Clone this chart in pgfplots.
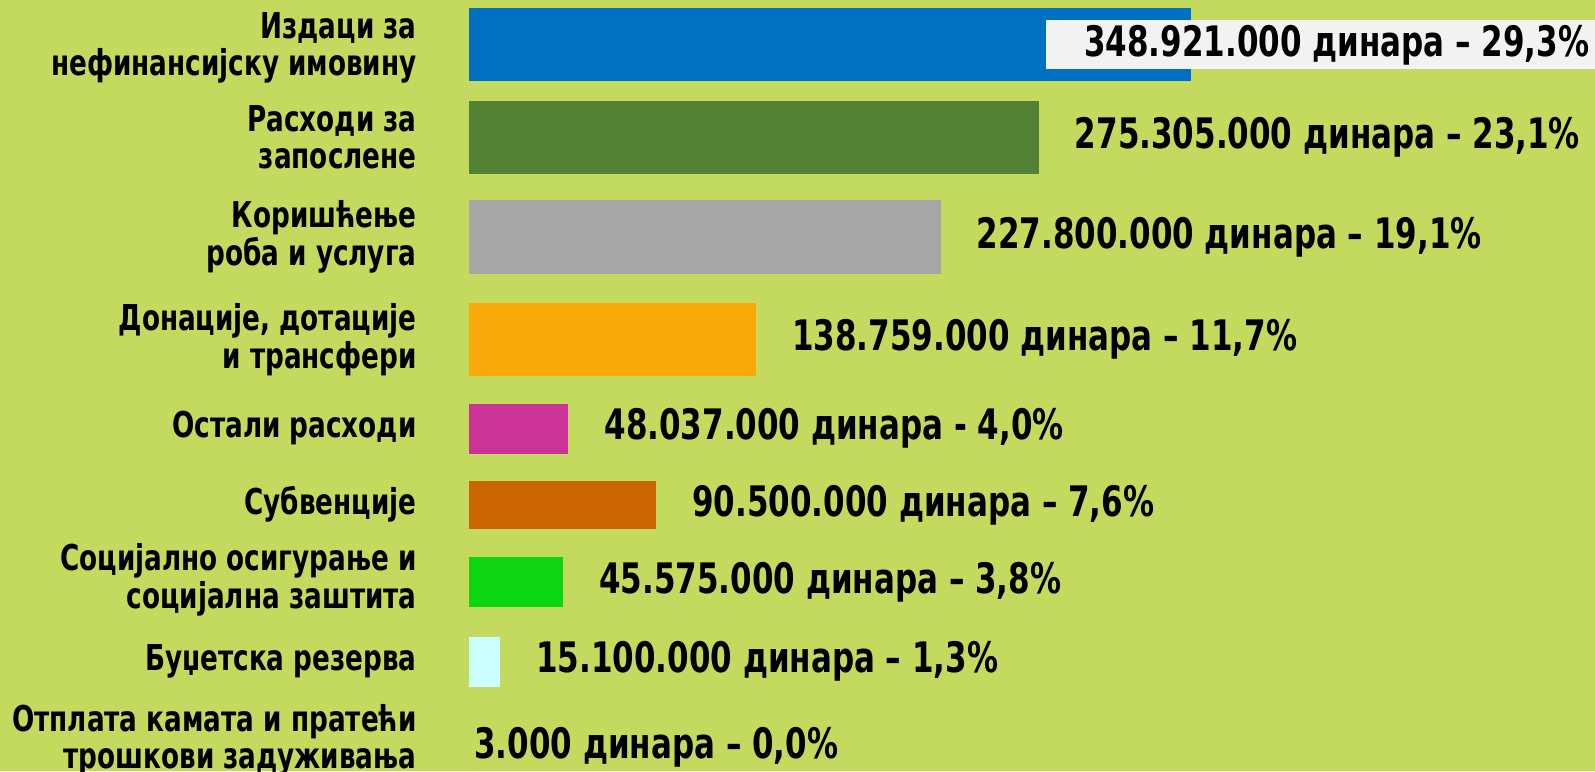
\documentclass[border=0pt]{standalone}
\usepackage{fontspec}
\setmainfont{DejaVu Sans Condensed}[FakeStretch=0.82]
\usepackage{pgfplots}
\pgfplotsset{compat=1.18}
\definecolor{bg}{RGB}{196,218,95}
\definecolor{cA}{RGB}{0,112,192}
\definecolor{cB}{RGB}{84,130,53}
\definecolor{cC}{RGB}{166,166,166}
\definecolor{cD}{RGB}{250,169,10}
\definecolor{cE}{RGB}{204,51,153}
\definecolor{cF}{RGB}{204,102,0}
\definecolor{cG}{RGB}{12,214,18}
\definecolor{cH}{RGB}{204,255,255}
\definecolor{boxg}{RGB}{242,242,242}
\begin{document}
\begin{tikzpicture}[x=1pt,y=1pt]
\fill[bg] (0,0) rectangle (797.5,385.5);
\begin{axis}[at={(234.5pt,0pt)}, anchor=south west,
  width=563pt, height=385.5pt, scale only axis,
  xmin=0, xmax=543.9, ymin=-771, ymax=0,
  enlargelimits=false, clip=false,
  axis line style={draw=none}, major tick length=0pt,
  xtick=\empty,
  ytick={-47.8,-137.3,-237,-339.7,-428.3,-504.5,-579.8,-661.2,-740.5},
  yticklabels={{Издаци за\\нефинансијску имовину},{Расходи за\\запослене},{Коришћење\\роба и услуга},{Донације, дотације\\и трансфери},{Остали расходи},{Субвенције},{Социјално осигурање и\\социјална заштита},{Буџетска резерва},{Отплата камата и пратећи\\трошкови задуживања}},
  yticklabel style={align=right, anchor=east, inner sep=0pt, xshift=-26pt, font=\bfseries\fontsize{17.8}{18.8}\selectfont},
  xbar, bar shift=0pt, point meta=explicit symbolic, nodes near coords,
  every node near coord/.append style={anchor=west, inner sep=0pt, xshift=17.8pt, text=black, font=\bfseries\fontsize{21}{22}\selectfont},
]
\addplot[fill=cA, draw=none, bar width=73.2, every node near coord/.append style={fill=boxg, inner xsep=19.2pt, inner ysep=0pt, minimum height=24.5pt, xshift=-90.8pt}] coordinates {(348.921,-44.8) [348.921.000 динара – 29,3\%]};
\addplot[fill=cB, draw=none, bar width=73.2] coordinates {(275.305,-137.3) [275.305.000 динара – 23,1\%]};
\addplot[fill=cC, draw=none, bar width=73.2] coordinates {(227.8,-237) [227.800.000 динара – 19,1\%]};
\addplot[fill=cD, draw=none, bar width=73.2] coordinates {(138.759,-339.7) [138.759.000 динара – 11,7\%]};
\addplot[fill=cE, draw=none, bar width=49.8] coordinates {(48.037,-428.7) [48.037.000 динара - 4,0\%]};
\addplot[fill=cF, draw=none, bar width=47.8] coordinates {(90.5,-505) [90.500.000 динара – 7,6\%]};
\addplot[fill=cG, draw=none, bar width=49.8] coordinates {(45.575,-582.4) [45.575.000 динара – 3,8\%]};
\addplot[fill=cH, draw=none, bar width=49.8] coordinates {(15.1,-661.7) [15.100.000 динара – 1,3\%]};
\addplot[fill=bg, draw=none, bar width=49.8, every node near coord/.append style={xshift=-15.3pt}] coordinates {(0.003,-747.6) [3.000 динара – 0,0\%]};
\end{axis}
\pgfresetboundingbox
\useasboundingbox (0,0) rectangle (797.5,385.5);
\end{tikzpicture}
\end{document}
